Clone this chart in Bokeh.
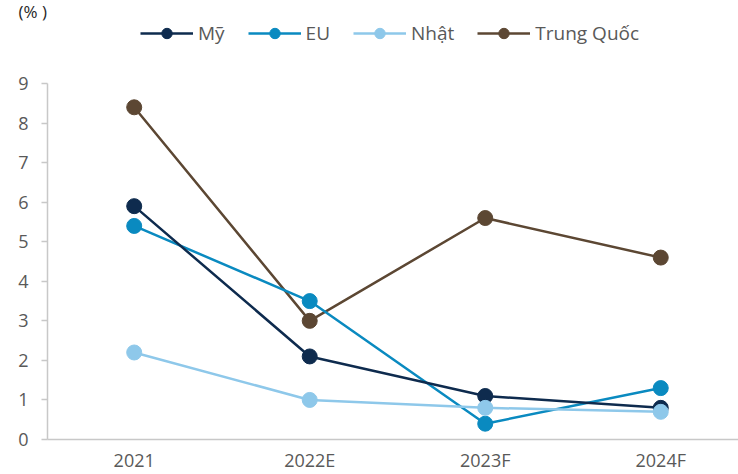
from bokeh.plotting import figure
from bokeh.models import Range1d, Legend, LegendItem, FixedTicker
from bokeh.embed import file_html
from bokeh.resources import INLINE

categories = ["2021", "2022E", "2023F", "2024F"]
my_vals = [5.9, 2.1, 1.1, 0.8]
eu_vals = [5.4, 3.5, 0.4, 1.3]
nhat_vals = [2.2, 1.0, 0.8, 0.7]
tq_vals = [8.4, 3.0, 5.6, 4.6]
y_ticks = [0, 1, 2, 3, 4, 5, 6, 7, 8, 9]

series = [
    ("Mỹ", my_vals, "#0E2B4E"),
    ("EU", eu_vals, "#0A8AC0"),
    ("Nhật", nhat_vals, "#8EC8EA"),
    ("Trung Quốc", tq_vals, "#5C4733"),
]

FONT = "Open Sans"
TXT = "#595959"
AX = "#C8C8C8"

xs = list(range(len(categories)))

p = figure(
    x_range=Range1d(-0.494, 3.443),
    y_range=Range1d(0, 10.62),
    width=738, height=474,
    output_backend="svg", toolbar_location=None,
    min_border_left=47, min_border_right=0, min_border_top=0, min_border_bottom=35,
    title="(% )",
)
p.title.align = "left"
p.title.offset = -29
p.title.standoff = -6
p.title.text_font = FONT
p.title.text_font_size = "17px"
p.title.text_font_style = "normal"
p.title.text_color = "#262626"

p.outline_line_color = None
p.grid.visible = False
p.background_fill_color = "white"

# x axis
p.xaxis.ticker = FixedTicker(ticks=xs)
p.xaxis.major_label_overrides = {i: c for i, c in zip(xs, categories)}
p.xaxis.axis_line_color = AX
p.xaxis.axis_line_width = 1.5
p.xaxis.major_tick_line_color = None
p.xaxis.minor_tick_line_color = None
p.xaxis.major_label_text_font = FONT
p.xaxis.major_label_text_font_size = "18px"
p.xaxis.major_label_text_color = TXT
p.xaxis.major_label_text_line_height = 0.9
p.xaxis.major_label_standoff = 2

# y axis
p.yaxis.ticker = FixedTicker(ticks=y_ticks)
p.yaxis.bounds = (0, 9)
p.yaxis.axis_line_color = AX
p.yaxis.axis_line_width = 1.5
p.yaxis.major_tick_line_color = AX
p.yaxis.major_tick_line_width = 1.5
p.yaxis.major_tick_out = 6
p.yaxis.major_tick_in = 0
p.yaxis.minor_tick_line_color = None
p.yaxis.major_label_text_font = FONT
p.yaxis.major_label_text_font_size = "18px"
p.yaxis.major_label_text_color = TXT
p.yaxis.major_label_standoff = 13

items = {}
draw_order = ["Trung Quốc", "EU", "Mỹ", "Nhật"]
lookup = {s[0]: s for s in series}
for name in draw_order:
    _, vals, color = lookup[name]
    r1 = p.line(xs, vals, line_color=color, line_width=2.5)
    r2 = p.scatter(xs, vals, marker="circle", size=15, fill_color=color, line_color=color)
    items[name] = [r1, r2]

legend = Legend(
    items=[LegendItem(label=s[0], renderers=items[s[0]]) for s in series],
    orientation="horizontal",
    location=(93, 393),
    glyph_width=53, glyph_height=26,
    label_standoff=5, spacing=23,
    label_text_font=FONT, label_text_font_size="19px", label_text_color=TXT,
    border_line_color=None, background_fill_alpha=0,
    padding=0, margin=0,
)
p.add_layout(legend)

open("out.html", "w").write(file_html(p, INLINE))
